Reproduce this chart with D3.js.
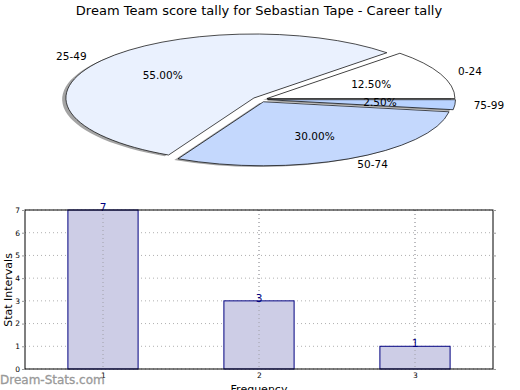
<!DOCTYPE html>
<html><head><meta charset="utf-8">
<script src="https://cdn.jsdelivr.net/npm/d3@7"></script>
<style>body{margin:0;background:#fff;} svg{display:block;font-family:"DejaVu Sans",sans-serif;}</style>
</head><body>
<svg id="c" width="520" height="390"></svg>
<script>
const title = "Dream Team score tally for Sebastian Tape - Career tally";
const pieLabels = ["0-24", "25-49", "50-74", "75-99"];
const pieValues = [12.5, 55.0, 30.0, 2.5];
const pieColors = ["#ffffff", "#eaf1fe", "#c4d8fd", "#b9d3ff"];
const barCats = [1, 2, 3];
const barValues = [7, 3, 1];
const yTicks = [0, 1, 2, 3, 4, 5, 6, 7];

const svg = d3.select("#c");
svg.append("rect").attr("width", 520).attr("height", 390).attr("fill", "#fff");

svg.append("text").attr("x", 259).attr("y", 15).attr("text-anchor", "middle")
  .attr("font-size", 13).attr("fill", "#000").text(title);

// ---- Pie ----
const cx = 260, cy = 99.5, rx = 188, ry = 64, explode = 0.04;
const pie = d3.pie().sort(null).startAngle(Math.PI / 2).endAngle(Math.PI / 2 - 2 * Math.PI);
const arcs = pie(pieValues);
const arc = d3.arc().innerRadius(0).outerRadius(rx);
const pg = svg.append("g").attr("transform", `translate(${cx},${cy}) scale(1,${ry / rx})`);
function off(d) {
  const m = (d.startAngle + d.endAngle) / 2;
  return [explode * rx * Math.sin(m), -explode * rx * Math.cos(m)];
}
// shadows
pg.selectAll("path.sh").data(arcs).join("path").attr("class", "sh")
  .attr("d", arc)
  .attr("transform", d => { const o = off(d); return `translate(${o[0] - 0.02 * rx},${o[1] + 0.02 * rx})`; })
  .attr("fill", "#4a4a4a").attr("fill-opacity", 0.5);
pg.selectAll("path.w").data(arcs).join("path").attr("class", "w")
  .attr("d", arc)
  .attr("transform", d => { const o = off(d); return `translate(${o[0]},${o[1]})`; })
  .attr("fill", (d, i) => pieColors[i]).attr("stroke", "#000").attr("stroke-width", 0.7)
  .attr("vector-effect", "non-scaling-stroke");

arcs.forEach((d, i) => {
  const m = (d.startAngle + d.endAngle) / 2;
  const sx = Math.sin(m), sy = -Math.cos(m);
  const ox = cx + explode * rx * sx, oy = cy + explode * ry * sy;
  const lx = ox + 1.1 * rx * sx, ly = oy + 1.1 * ry * sy;
  svg.append("text").attr("x", lx).attr("y", ly).attr("dy", "0.35em")
    .attr("text-anchor", sx > 0 ? "start" : "end").attr("font-size", 10.5).text(pieLabels[i]);
  const px = ox + 0.6 * rx * sx, py = oy + 0.6 * ry * sy;
  svg.append("text").attr("x", px).attr("y", py).attr("dy", "0.35em")
    .attr("text-anchor", "middle").attr("font-size", 10.5).text(pieValues[i].toFixed(2) + "%");
});

// ---- Bars ----
const L = 25, R = 493, T = 210, B = 369;
const x = d3.scaleLinear().domain([0.5, 3.5]).range([L, R]);
const y = d3.scaleLinear().domain([0, 7]).range([B, T]);
const bw = 0.45;
const g = svg.append("g");
// grid
g.selectAll("line.gy").data(yTicks).join("line")
  .attr("x1", L).attr("x2", R).attr("y1", d => y(d)).attr("y2", d => y(d))
  .attr("stroke", "#b0b0b0").attr("stroke-width", 1).attr("stroke-dasharray", "1,3");
g.selectAll("line.gx").data(barCats).join("line")
  .attr("y1", T).attr("y2", B).attr("x1", d => x(d)).attr("x2", d => x(d))
  .attr("stroke", "#b0b0b0").attr("stroke-width", 1).attr("stroke-dasharray", "1,3");
// bars
g.selectAll("rect.bar").data(barValues).join("rect")
  .attr("x", (d, i) => x(barCats[i] - bw / 2)).attr("width", (d, i) => x(barCats[i] + bw / 2) - x(barCats[i] - bw / 2))
  .attr("y", d => y(d)).attr("height", d => B - y(d))
  .attr("fill", "#cdcde6").attr("stroke", "#000080").attr("stroke-width", 1);
g.selectAll("line.gx2").data(barCats).join("line")
  .attr("y1", T).attr("y2", B).attr("x1", d => x(d)).attr("x2", d => x(d))
  .attr("stroke", "#a0a0a8").attr("stroke-width", 1).attr("stroke-dasharray", "1,3");
g.selectAll("text.v").data(barValues).join("text")
  .attr("x", (d, i) => x(barCats[i])).attr("y", d => y(d) + 1)
  .attr("text-anchor", "middle").attr("font-size", 10.5).attr("fill", "#000080").text(d => d);
// frame
g.append("rect").attr("x", L).attr("y", T).attr("width", R - L).attr("height", B - T)
  .attr("fill", "none").attr("stroke", "#000").attr("stroke-width", 1);
// axes
const ya = d3.axisLeft(y).tickValues(yTicks).tickSize(3).tickPadding(2).tickFormat(d3.format("d"));
const yAx = svg.append("g").attr("transform", `translate(${L},0)`).call(ya);
const yaR = d3.axisRight(y).tickValues(yTicks).tickSize(3).tickFormat("");
const yAxR = svg.append("g").attr("transform", `translate(${R},0)`).call(yaR);
const xa = d3.axisBottom(x).tickValues(barCats).tickSize(0).tickPadding(4).tickFormat(d3.format("d"));
const xAx = svg.append("g").attr("transform", `translate(0,${B})`).call(xa);
[yAx, yAxR, xAx].forEach(a => {
  a.select(".domain").remove();
  a.selectAll("line").attr("stroke", "#999");
  a.selectAll("text").attr("font-size", 7.5).attr("fill", "#000").attr("font-family", "DejaVu Sans");
});

svg.append("text").attr("transform", "translate(12,290) rotate(-90)").attr("text-anchor", "middle")
  .attr("font-size", 11).text("Stat Intervals");
svg.append("text").attr("x", 259).attr("y", 393).attr("text-anchor", "middle")
  .attr("font-size", 11).text("Frequency");
svg.append("text").attr("x", 0).attr("y", 384).attr("font-size", 12)
  .attr("fill", "#999").attr("stroke", "#999").attr("stroke-width", 0.3).text("Dream-Stats.com");
</script>
</body></html>
